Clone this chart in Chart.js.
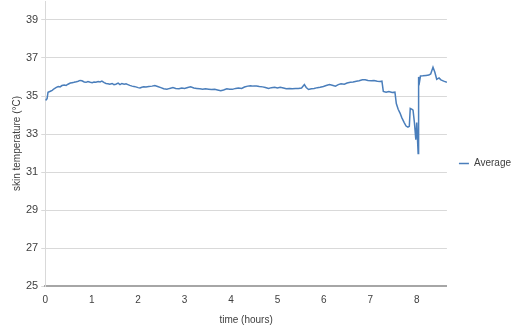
<!DOCTYPE html>
<html>
<head>
<meta charset="utf-8">
<script src="https://cdn.jsdelivr.net/npm/chart.js@4"></script>
<style>
html,body{margin:0;padding:0;background:#fff;}
#wrap{width:513px;height:329px;}
</style>
</head>
<body>
<div id="wrap"><canvas id="c" width="513" height="329"></canvas></div>
<script>
const seriesName = "Average";
const xTitle = "time (hours)";
const yTitle = "skin temperature (°C)";
const xTicks = [0,1,2,3,4,5,6,7,8];
const yTicks = [25,27,29,31,33,35,37,39];
const times = [0.00,0.02,0.04,0.06,0.11,0.15,0.19,0.24,0.28,0.32,0.36,0.41,0.45,0.49,0.54,0.58,0.62,0.67,0.71,0.75,0.79,0.84,0.88,0.92,0.97,1.01,1.05,1.09,1.14,1.18,1.22,1.27,1.31,1.35,1.39,1.44,1.48,1.52,1.57,1.61,1.65,1.70,1.74,1.78,1.82,1.87,1.91,1.95,2.00,2.04,2.08,2.12,2.17,2.23,2.30,2.36,2.42,2.49,2.55,2.62,2.68,2.75,2.81,2.88,2.94,3.00,3.07,3.13,3.20,3.26,3.33,3.39,3.45,3.52,3.58,3.65,3.71,3.78,3.84,3.91,3.97,4.03,4.10,4.16,4.23,4.29,4.36,4.42,4.48,4.55,4.61,4.68,4.74,4.81,4.87,4.94,5.00,5.06,5.13,5.19,5.26,5.32,5.39,5.45,5.52,5.58,5.62,5.67,5.73,5.79,5.86,5.92,5.99,6.05,6.12,6.18,6.25,6.31,6.37,6.44,6.50,6.57,6.63,6.70,6.76,6.83,6.89,6.95,7.02,7.08,7.15,7.21,7.25,7.28,7.34,7.40,7.47,7.53,7.56,7.60,7.64,7.68,7.73,7.77,7.81,7.84,7.86,7.90,7.92,7.95,7.98,8.00,8.03,8.04,8.06,8.08,8.13,8.20,8.26,8.30,8.35,8.39,8.43,8.48,8.52,8.58,8.65];
const temps = [34.82,34.80,34.86,35.20,35.25,35.30,35.38,35.45,35.50,35.48,35.55,35.58,35.56,35.62,35.68,35.70,35.72,35.75,35.78,35.82,35.80,35.74,35.72,35.76,35.72,35.70,35.74,35.72,35.76,35.74,35.78,35.70,35.66,35.64,35.62,35.66,35.60,35.62,35.68,35.60,35.66,35.62,35.64,35.60,35.56,35.52,35.50,35.48,35.44,35.42,35.46,35.48,35.47,35.50,35.52,35.55,35.50,35.44,35.38,35.36,35.40,35.44,35.40,35.38,35.42,35.40,35.45,35.48,35.42,35.40,35.38,35.36,35.38,35.36,35.34,35.35,35.32,35.28,35.32,35.38,35.36,35.35,35.40,35.42,35.40,35.47,35.52,35.54,35.52,35.53,35.50,35.48,35.45,35.40,35.44,35.46,35.42,35.46,35.42,35.38,35.40,35.38,35.40,35.40,35.42,35.60,35.45,35.34,35.38,35.40,35.44,35.46,35.50,35.55,35.60,35.57,35.52,35.60,35.64,35.62,35.68,35.72,35.74,35.78,35.80,35.85,35.86,35.82,35.80,35.82,35.78,35.76,35.78,35.24,35.20,35.24,35.18,35.20,34.60,34.30,34.10,33.85,33.60,33.42,33.36,33.40,34.35,34.30,34.26,33.60,32.70,33.60,31.98,36.00,35.75,36.05,36.06,36.08,36.10,36.16,36.51,36.25,35.88,35.95,35.85,35.78,35.72];

const FONT = "'Liberation Sans', Arial, sans-serif";
const points = times.map((t, i) => ({x: t, y: temps[i]}));

new Chart(document.getElementById('c'), {
  type: 'line',
  data: {
    datasets: [{
      label: seriesName,
      data: points,
      borderColor: '#4a7ebb',
      backgroundColor: '#4a7ebb',
      borderWidth: 1.5,
      pointRadius: 0,
      tension: 0,
      fill: false
    }]
  },
  options: {
    responsive: false,
    devicePixelRatio: 1,
    animation: false,
    layout: {padding: {top: 1, left: 11, right: -8, bottom: 3}},
    plugins: {
      tooltip: {enabled: false},
      legend: {
        position: 'right',
        labels: {
          usePointStyle: true,
          pointStyle: 'line',
          pointStyleWidth: 10,
          boxWidth: 10,
          boxHeight: 2,
          padding: 12,
          color: '#404040',
          font: {family: FONT, size: 10}
        }
      }
    },
    scales: {
      x: {
        type: 'linear',
        min: 0,
        max: 8.65,
        afterBuildTicks: (s) => { s.ticks = xTicks.map(v => ({value: v})); },
        grid: {display: false, drawTicks: false},
        border: {display: true, color: '#a6a6a6', width: 2},
        ticks: {color: '#404040', font: {family: FONT, size: 10}, padding: 8, maxRotation: 0},
        title: {display: true, text: xTitle, color: '#404040', font: {family: FONT, size: 10}, padding: {top: 0, bottom: 0}}
      },
      y: {
        min: 25,
        max: 40,
        afterBuildTicks: (s) => { s.ticks = yTicks.map(v => ({value: v})); },
        afterFit: (s) => { s.paddingTop = 0; },
        grid: {color: '#d9d9d9', tickLength: 4, lineWidth: 1},
        border: {color: '#d9d9d9', width: 1},
        ticks: {color: '#404040', font: {family: FONT, size: 11}, padding: 3},
        title: {display: true, text: yTitle, color: '#404040', font: {family: FONT, size: 10}, padding: {top: 0, bottom: 0}}
      }
    }
  }
});
</script>
</body>
</html>
